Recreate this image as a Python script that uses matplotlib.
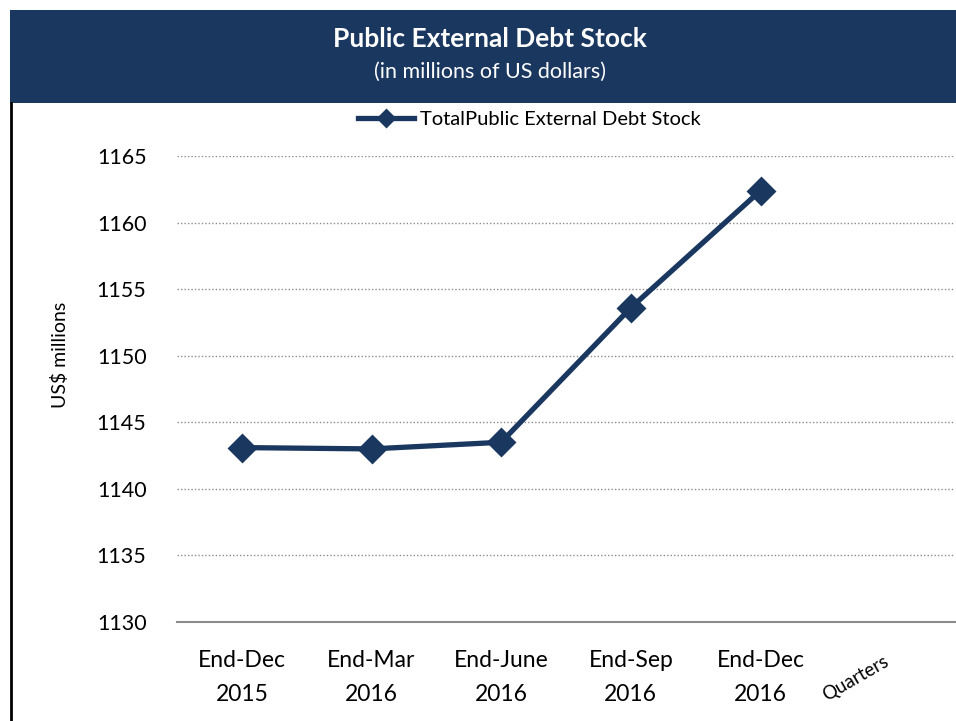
import matplotlib.pyplot as plt
import matplotlib.patches as patches

quarters = ["End-Dec\n2015", "End-Mar\n2016", "End-June\n2016", "End-Sep\n2016", "End-Dec\n2016"]
debt_stock = [1143.1, 1143.0, 1143.5, 1153.6, 1162.4]
y_ticks = [1130, 1135, 1140, 1145, 1150, 1155, 1160, 1165]

navy = "#1a3760"
font = "Lato"

fig = plt.figure(figsize=(9.56, 7.21), dpi=100)

# title banner and left border
fig.patches.append(patches.Rectangle((10 / 956, 1 - 103 / 721), 946 / 956, 93 / 721,
                                     transform=fig.transFigure, facecolor=navy, edgecolor="none"))
fig.add_artist(plt.Line2D([11 / 956, 11 / 956], [0, 1 - 103 / 721], transform=fig.transFigure,
                          color="black", lw=2))
fig.text(0.513, 1 - 39 / 721, "Public External Debt Stock", ha="center", va="center",
         color="white", fontsize=19, fontweight="bold", family=font)
fig.text(0.513, 1 - 72 / 721, "(in millions of US dollars)", ha="center", va="center",
         color="white", fontsize=15.5, family=font)

ax = fig.add_axes([177 / 956, 1 - 622 / 721, 778 / 956, 466 / 721])
x = list(range(len(quarters)))
ax.plot(x, debt_stock, color=navy, lw=3.8, marker="D", ms=13, mec=navy, mew=2,
        solid_joinstyle="round", label="TotalPublic External Debt Stock")

ax.set_xlim(-0.5, 5.5)
ax.set_ylim(1130, 1165)
ax.set_yticks(y_ticks)
ax.set_xticks(x)
ax.set_xticklabels(quarters, family=font, fontsize=16.5, linespacing=1.75)
ax.set_yticklabels([str(v) for v in y_ticks], family=font, fontsize=15.5)
ax.tick_params(length=0, pad=22)
ax.tick_params(axis="x", pad=20)

ax.grid(axis="y", color="#8c8c8c", ls=(0, (1, 1.5)), lw=1)
for s in ["top", "right", "left"]:
    ax.spines[s].set_visible(False)
ax.spines["bottom"].set_color("#8c8c8c")
ax.spines["bottom"].set_linewidth(1.5)
ax.set_axisbelow(True)

fig.text(60 / 956, 1 - 355 / 721, "US$ millions", rotation=90, ha="center", va="center",
         family=font, fontsize=14)
ax.text(4.73, 1125.8, "Quarters", rotation=30, rotation_mode="anchor", ha="center",
        va="center", fontsize=13.5, family=font, transform=ax.transData, clip_on=False)

ax.legend(loc="center", bbox_to_anchor=(0.453, 1.078), frameon=False,
          prop={"family": font, "size": 14.5}, handlelength=2.8, handletextpad=0.3,
          markerscale=0.65)

fig.savefig("out.png", dpi=100)
